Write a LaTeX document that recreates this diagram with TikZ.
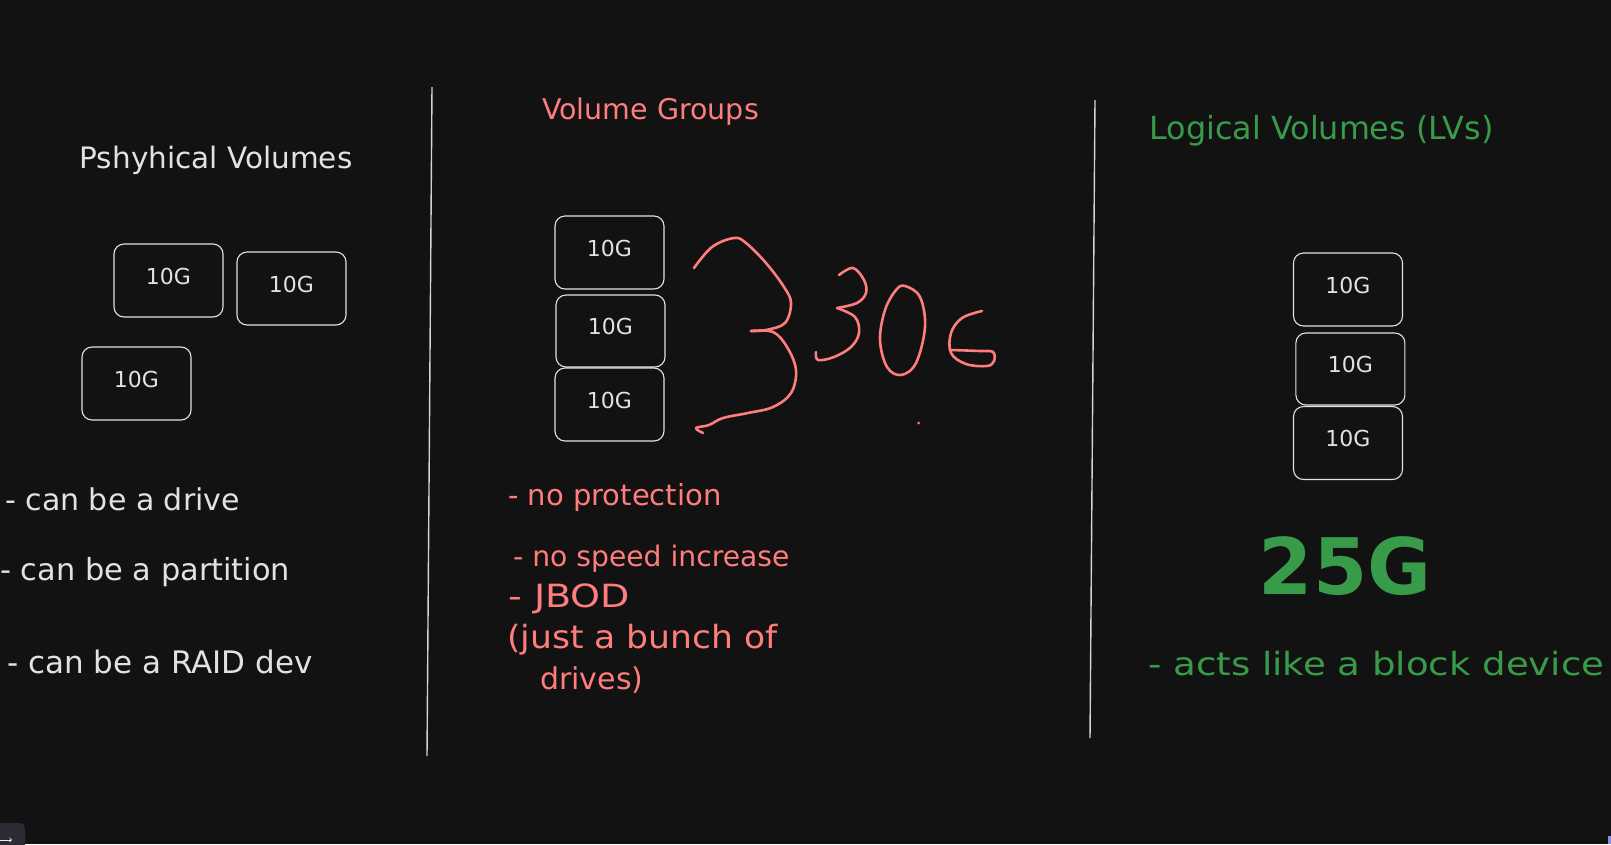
\documentclass[tikz,border=0pt]{standalone}
\usepackage{fontspec}
\usepackage{graphicx}
\setmainfont{DejaVu Sans}
\definecolor{bg}{HTML}{121212}
\definecolor{inkw}{HTML}{E2E2E2}
\definecolor{sepc}{HTML}{D4D4D4}
\definecolor{salmon}{HTML}{FF7D7D}
\definecolor{leaf}{HTML}{389B4A}
\definecolor{uibox}{HTML}{2B2B33}
\definecolor{uipurple}{HTML}{8C8CE6}
\newcommand\stretchx[2]{\scalebox{#1}[1]{#2}}
\begin{document}
\begin{tikzpicture}[x=1pt,y=-1pt,
  disk/.style={draw=inkw, line width=1.1pt, rounded corners=10pt, minimum height=73pt,
    minimum width=#1, inner sep=0pt, text=inkw, font=\fontsize{22}{26}\selectfont},
  disk/.default=109pt,
  lbl/.style={font=\fontsize{#1}{34}\selectfont, inner sep=0pt},
  lbl/.default=29.5,
  sepline/.style={draw=sepc, line width=1.4pt},
  pen/.style={draw=salmon, line width=2.6pt, line cap=round, line join=round}]
\fill[bg] (0,0) rectangle (1611,844);
\useasboundingbox (0,0) rectangle (1611,844);

% separators
\coordinate (s1t) at (432,87);  \coordinate (s1b) at (427,756);
\coordinate (s2t) at (1095,100); \coordinate (s2b) at (1090,738);
\draw[sepline] (s1t) -- (s1b);
\draw[sepline] (s2t) -- (s2b);

% headings
\node[lbl, text=inkw, anchor=base] (hpv) at (216,168) {Pshyhical Volumes};
\node[lbl=28.5, text=salmon, anchor=base] (hvg) at (650.5,119) {Volume Groups};
\node[lbl=31.8, text=leaf, anchor=base] (hlv) at (1321.6,139) {Logical Volumes (LVs)};

% physical volumes
\node[disk] (pv1) at (168.5,280.5) {\raisebox{-3.5pt}[0pt][0pt]{10G}};
\node[disk] (pv2) at (291.5,288.5) {\raisebox{-3.5pt}[0pt][0pt]{10G}};
\node[disk] (pv3) at (136.5,383.5) {\raisebox{-3.5pt}[0pt][0pt]{10G}};

% volume group
\node[disk] (vg1) at (609.5,252.5) {\raisebox{-3.5pt}[0pt][0pt]{10G}};
\node[disk, minimum height=72pt] (vg2) at (610.5,331) {\raisebox{-3.5pt}[0pt][0pt]{10G}};
\node[disk] (vg3) at (609.5,404.5) {\raisebox{-3.5pt}[0pt][0pt]{10G}};

% logical volumes
\node[disk] (lv1) at (1348,289.5) {\raisebox{-3.5pt}[0pt][0pt]{10G}};
\node[disk, minimum height=72pt] (lv2) at (1350.4,369) {\raisebox{-3.5pt}[0pt][0pt]{10G}};
\node[disk] (lv3) at (1348,443) {\raisebox{-3.5pt}[0pt][0pt]{10G}};

% brace (freehand)
\draw[pen] plot[smooth, tension=0.6] coordinates {(694,268) (712,247) (734,238) (746,243) (766,263) (784,287) (791,303) (785,323) (766,330) (751,331)};
\draw[pen] plot[smooth, tension=0.6] coordinates {(751,331) (773,332) (787,347) (796,370) (791,393) (773,407) (748,413) (723,418) (709,425) (696,428) (703,433)};

% freehand 30G
\draw[pen] plot[smooth, tension=0.6] coordinates {(839,275) (853,268) (864,280) (866,293) (857,303) (837,308)};
\draw[pen] plot[smooth, tension=0.6] coordinates {(837,308) (855,317) (859,333) (851,347) (834,357) (818,360) (816,352)};
\draw[pen] plot[smooth cycle, tension=0.6] coordinates {(905,286) (920,297) (925,327) (916,363) (901,375) (887,367) (880,340) (885,310) (896,290)};
\draw[pen] plot[smooth, tension=0.6] coordinates {(982,311) (962,318) (951,333) (951,353) (966,364) (987,366) (994,361) (993,352) (980,351) (951,350)};
\fill[salmon] (918.6,423) circle (1.6pt);

% bullet notes, physical volumes
\node[lbl=30, text=inkw, anchor=base west] (pvn1) at (5,510) {- can be a drive};
\node[lbl=30.4, text=inkw, anchor=base west] (pvn2) at (0,580) {- can be a partition};
\node[lbl=31, text=inkw, anchor=base west] (pvn3) at (7,673) {- can be a RAID dev};

% bullet notes, volume groups
\node[lbl=29, text=salmon, anchor=base west] (vgn1) at (508,505) {- no protection};
\node[lbl=28.2, text=salmon, anchor=base west] (vgn2) at (513,566) {- no speed increase};
\node[lbl=32, text=salmon, anchor=base west] (vgn3) at (508,607) {\stretchx{1.19}{- JBOD}};
\node[lbl=32, text=salmon, anchor=base west] (vgn4) at (507,648) {\stretchx{1.08}{(just a bunch of}};
\node[lbl=30, text=salmon, anchor=base west] (vgn5) at (540,689) {drives)};

% logical volumes total and note
\node[text=leaf, inner sep=0pt, anchor=base, font=\fontsize{78}{90}\selectfont\bfseries] (lvtot) at (1345,594) {25G};
\node[lbl=32, text=leaf, anchor=base west] (lvn1) at (1148,675) {\stretchx{1.16}{- acts like a block device}};

% UI remnants
\fill[uibox, rounded corners=5pt] (-10,823) rectangle (25,860);
\coordinate (ua) at (0,840); \coordinate (ub) at (12,840);
\draw[inkw!70, line width=0.8pt, ->] (ua) -- (ub);
\fill[uipurple] (1608,836) rectangle (1611,844);
\end{tikzpicture}
\end{document}
